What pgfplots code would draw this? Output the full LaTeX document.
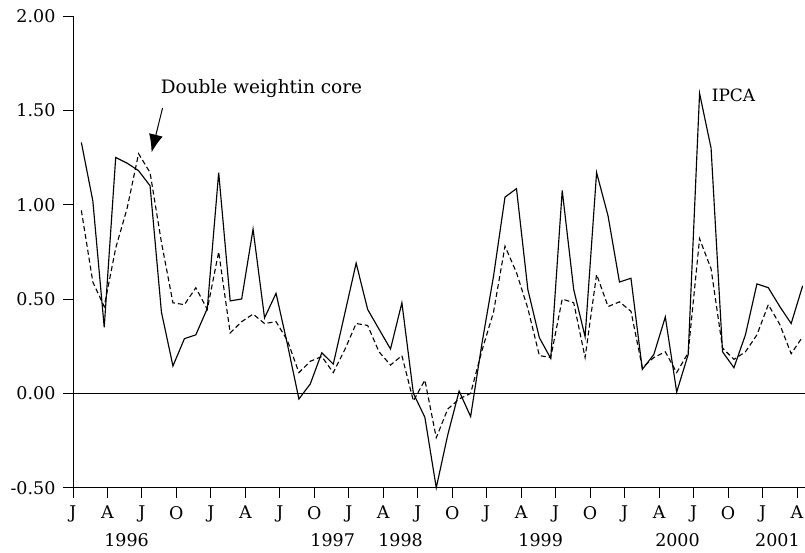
\documentclass[border=0pt]{standalone}
\usepackage{fontspec}
\setmainfont{DejaVu Serif}
\usepackage{pgfplots}
\pgfplotsset{compat=1.18}
\usepackage{pgfplotstable}
\usetikzlibrary{arrows.meta,calc}

% monthly inflation, Jan 1996 - Apr 2001 (x in months from Jan 1996)
\pgfplotstableread{
x     ipca   core
0.73  1.33   0.97
1.73  1.02   0.59
2.72  0.35   0.46
3.72  1.25   0.77
4.71  1.22   0.98
5.71  1.18   1.27
6.71  1.10   1.17
7.70  0.43   0.80
8.70  0.145  0.48
9.70  0.29   0.47
10.69 0.31   0.56
11.69 0.45   0.445
12.68 1.17   0.75
13.68 0.49   0.32
14.68 0.50   0.38
15.67 0.87   0.42
16.67 0.40   0.37
17.67 0.53   0.38
18.66 0.26   0.28
19.66 -0.03  0.11
20.65 0.05   0.17
21.65 0.215  0.195
22.65 0.155  0.11
23.64 0.42   0.23
24.64 0.69   0.37
25.64 0.445  0.36
26.63 0.34   0.22
27.63 0.235  0.15
28.62 0.48   0.20
29.62 0.0    -0.04
30.62 -0.127 0.07
31.61 -0.50  -0.235
32.61 -0.22  -0.083
33.60 0.012  -0.03
34.60 -0.123 0.0
35.60 0.27   0.23
36.59 0.62   0.43
37.59 1.04   0.78
38.59 1.085  0.64
39.58 0.55   0.45
40.58 0.295  0.20
41.57 0.185  0.19
42.57 1.075  0.50
43.57 0.55   0.48
44.56 0.30   0.19
45.56 1.17   0.63
46.56 0.94   0.46
47.55 0.59   0.485
48.55 0.61   0.435
49.54 0.127  0.136
50.54 0.206  0.19
51.54 0.405  0.22
52.53 0.007  0.11
53.53 0.206  0.215
54.52 1.59   0.82
55.52 1.30   0.66
56.52 0.22   0.24
57.51 0.136  0.18
58.51 0.31   0.22
59.51 0.58   0.31
60.50 0.56   0.47
61.50 0.46   0.365
62.49 0.37   0.21
63.49 0.57   0.30
}\inflation

\begin{document}
\begin{tikzpicture}[
  year/.style={anchor=base, inner sep=0pt, yshift=-59pt, font=\fontsize{17.5}{20}\selectfont},
]
\begin{axis}[
  name=ax,
  scale only axis,
  width=732pt,
  height=472pt,
  xmin=0, xmax=63.65,
  ymin=-0.5, ymax=2,
  axis x line*=bottom,
  axis y line*=left,
  tick align=outside,
  major tick length=10pt,
  xtick={0,3,...,63},
  xticklabels={J,A,J,O,J,A,J,O,J,A,J,O,J,A,J,O,J,A,J,O,J,A},
  ytick={-0.5,0,0.5,1,1.5,2},
  yticklabels={-0.50,0.00,0.50,1.00,1.50,2.00},
  tick label style={font=\fontsize{17.5}{20}\selectfont},
  xticklabel style={yshift=-5pt},
  yticklabel style={xshift=-4pt},
  tick style={black, line width=0.9pt},
  axis line style={line width=0.9pt},
  clip=false,
]
\draw[line width=0.9pt] (axis cs:0,0) -- (axis cs:63.65,0);
\addplot[black, line width=1.15pt] table[x=x, y=ipca] {\inflation};
\addplot[black, line width=1.1pt, dash pattern=on 5pt off 3pt] table[x=x, y=core] {\inflation};

\node[anchor=base west, inner sep=0pt, font=\fontsize{18.5}{22}\selectfont]
  at (axis cs:7.63,1.587) {Double weightin core};
\draw[line width=1pt, -{Latex[length=18pt,width=14pt]}]
  (axis cs:7.80,1.513) -- (axis cs:6.84,1.277);
\node[anchor=base west, inner sep=0pt, font=\fontsize{17}{20}\selectfont]
  at (axis cs:55.57,1.545) {IPCA};

\node[year] at (axis cs:4.67,-0.5) {1996};
\node[year] at (axis cs:22.6,-0.5) {1997};
\node[year] at (axis cs:28.5,-0.5) {1998};
\node[year] at (axis cs:40.7,-0.5) {1999};
\node[year] at (axis cs:52.6,-0.5) {2000};
\node[year] at (axis cs:61.3,-0.5) {2001};
\end{axis}
\pgfresetboundingbox
\path[use as bounding box] ($(ax.south west)+(-73pt,-65pt)$) rectangle ($(ax.north east)+(0.5pt,16pt)$);
\end{tikzpicture}
\end{document}
